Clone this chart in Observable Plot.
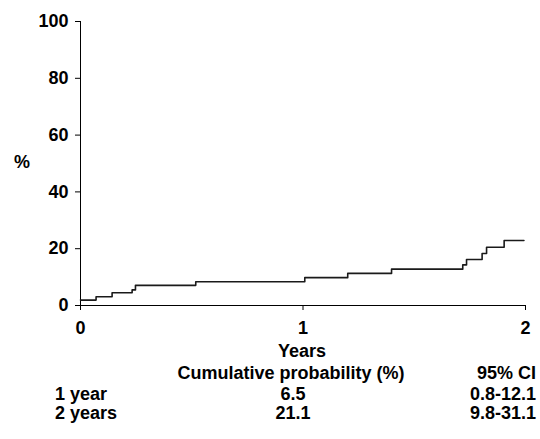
<!DOCTYPE html>
<html>
<head>
<meta charset="utf-8">
<script src="https://cdn.jsdelivr.net/npm/d3@7"></script>
<script src="https://cdn.jsdelivr.net/npm/@observablehq/plot@0.6"></script>
<style>
  html, body { margin: 0; padding: 0; background: #fff; }
  #wrap { position: relative; width: 540px; height: 439px; overflow: hidden;
          font-family: "Liberation Sans", Arial, sans-serif; font-weight: bold; color: #000; }
  #chart { position: absolute; left: 0; top: 0; }
  .t { position: absolute; white-space: nowrap; line-height: 1; }
</style>
</head>
<body>
<div id="wrap"><div id="chart"></div></div>
<script>
// Step-function data
const years = [0, 0.07, 0.142, 0.232, 0.247, 0.518, 1.008, 1.201, 1.398, 1.718, 1.735, 1.805, 1.825, 1.904, 1.993];
const cumPct = [1.9, 3.1, 4.5, 5.5, 7.1, 8.35, 9.8, 11.3, 12.8, 14.3, 16.2, 18.3, 20.5, 22.9, 22.9];
const xTicks = [0, 1, 2];
const yTicks = [0, 20, 40, 60, 80, 100];
const yLabel = "%";
const xLabel = "Years";
const tableHeader = ["", "Cumulative probability (%)", "95% CI"];
const rowLabels = ["1 year", "2 years"];
const rowProb = ["6.5", "21.1"];
const rowCI = ["0.8-12.1", "9.8-31.1"];

const data = years.map((x, i) => ({x, y: cumPct[i]}));

const plot = Plot.plot({
  width: 540,
  height: 340,
  marginLeft: 80,
  marginRight: 15,
  marginTop: 21,
  marginBottom: 35,
  style: {fontFamily: "'Liberation Sans', Arial, sans-serif", fontSize: "18px", fontWeight: "bold", color: "#000", background: "#fff"},
  x: {domain: [0, 2], ticks: xTicks, tickFormat: d3.format("d"), tickSize: 5, tickPadding: 11, label: null},
  y: {domain: [0, 100], ticks: yTicks, tickSize: 5, tickPadding: 7, label: null},
  marks: [
    Plot.ruleX([0], {stroke: "#000", strokeWidth: 1}),
    Plot.ruleY([0], {stroke: "#000", strokeWidth: 1}),
    Plot.line(data, {x: "x", y: "y", curve: "step-after", stroke: "#1a1a1a", strokeWidth: 1.6})
  ]
});
document.getElementById("chart").appendChild(plot);

const wrap = document.getElementById("wrap");
function addText(txt, x, baseline, fs, align) {
  const d = document.createElement("div");
  d.className = "t";
  d.textContent = txt;
  d.style.fontSize = fs + "px";
  d.style.top = (baseline - 0.85 * fs) + "px";
  if (align === "left") d.style.left = x + "px";
  else if (align === "right") d.style.right = (540 - x) + "px";
  else { d.style.left = x + "px"; d.style.transform = "translateX(-50%)"; }
  wrap.appendChild(d);
}
const fs = 18;
addText(yLabel, 22, 168, fs, "center");
addText(xLabel, 302, 357, fs, "center");
addText(tableHeader[1], 291, 379, fs, "center");
addText(tableHeader[2], 536, 379, fs, "right");
rowLabels.forEach((r, i) => {
  const b = 400 + i * 19;
  addText(r, 55, b, fs, "left");
  addText(rowProb[i], 293, b, fs, "center");
  addText(rowCI[i], 536, b, fs, "right");
});
</script>
</body>
</html>
